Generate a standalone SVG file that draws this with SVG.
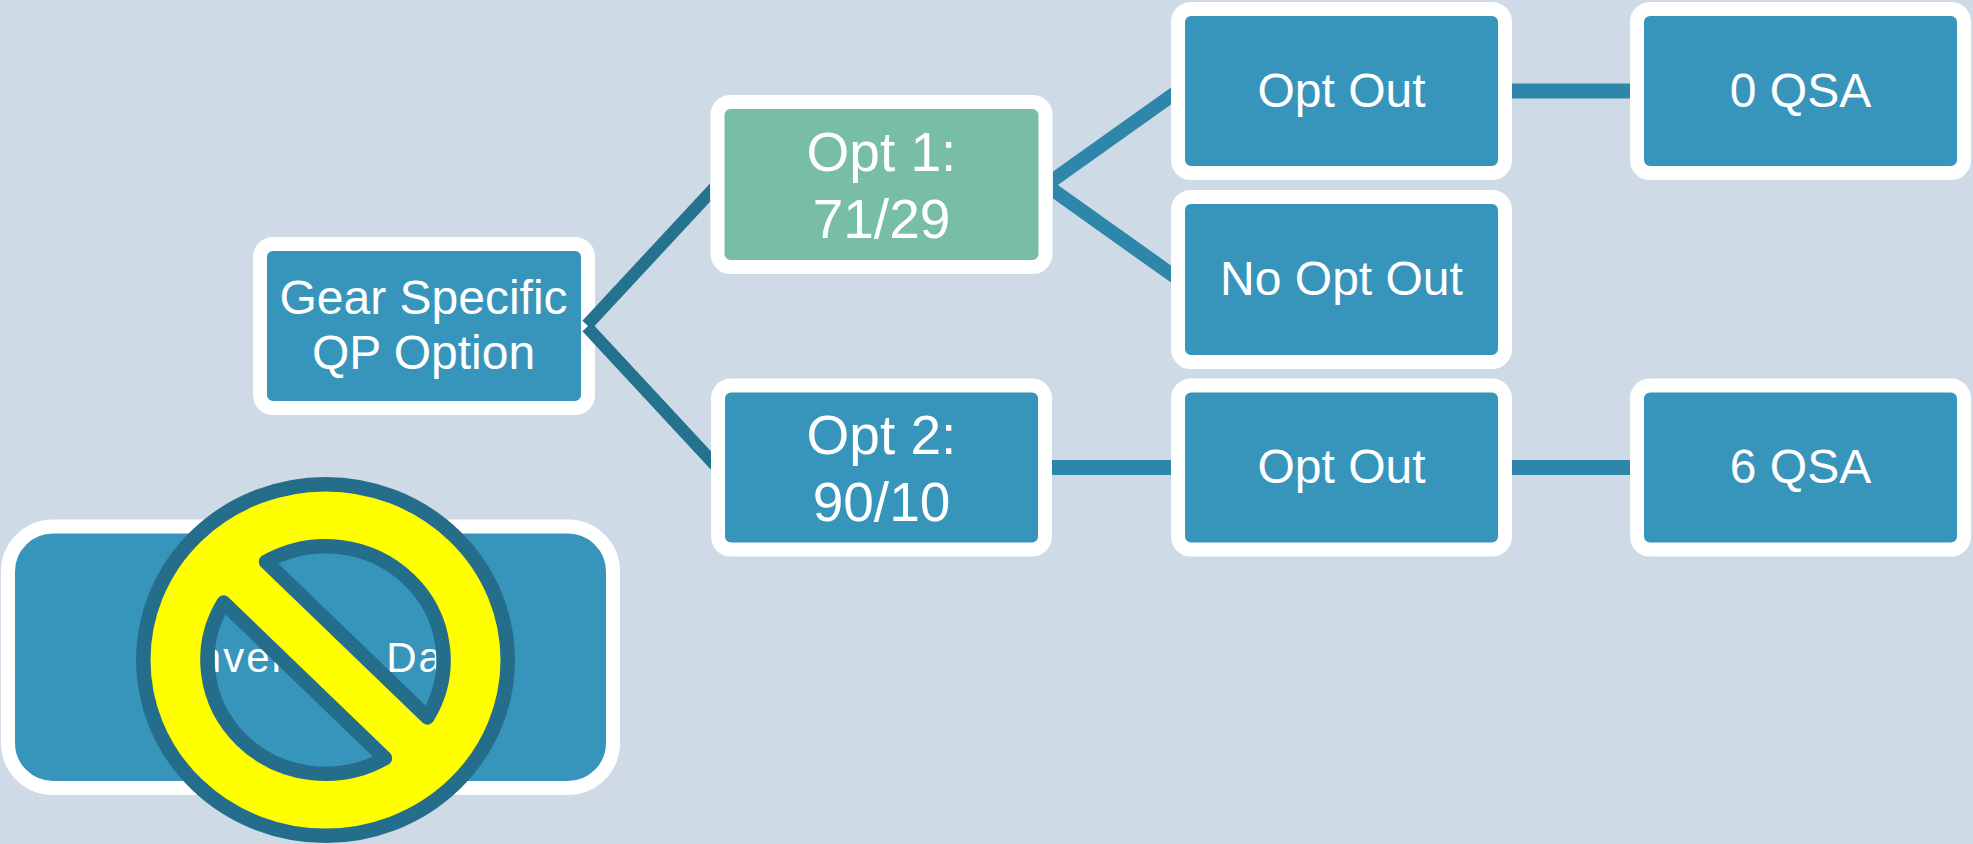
<svg xmlns="http://www.w3.org/2000/svg" width="1973" height="844" viewBox="0 0 1973 844">
<defs>
<style>
.box{fill:#3795BC;stroke:#FFFFFF;stroke-width:14}
.green{fill:#78BEA7}
.t{font-family:"Liberation Sans",Arial,sans-serif;fill:#FFFFFF;text-anchor:middle;font-size:48px}
.t2{font-size:55px}
.t3{font-size:42px;letter-spacing:2px}
.c1{fill:#25728F}
.c2{fill:#2E87AA}
.h{stroke:#2E87AA;stroke-width:15;stroke-linecap:butt}
.sign{fill:#FFFF00;fill-rule:evenodd;stroke:#246E8C;stroke-width:14.5;stroke-linejoin:round}
</style>
</defs>
<rect x="0" y="0" width="1973" height="844" fill="#CEDBE6"/>
<g id="node-gear">
<rect class="box" x="260" y="244" width="328" height="164" rx="13"/>
<text class="t" x="423.5" y="314">Gear Specific</text>
<text class="t" x="423.5" y="369">QP Option</text>
</g>
<g id="connectors">
<polygon class="c1" points="582.4,320.8 710,183.4 710,201.8 591.6,329.3"/>
<polygon class="c1" points="582.4,331.3 711,469.7 711,451.3 591.6,322.8"/>
<polygon class="c2" points="1053,171.4 1171,87.4 1171,104.6 1053,188.6"/>
<polygon class="c2" points="1053,181.4 1171,265.4 1171,282.6 1053,198.6"/>
<line class="h" x1="1046" y1="467.5" x2="1171" y2="467.5"/>
<line class="h" x1="1505" y1="91" x2="1630" y2="91"/>
<line class="h" x1="1505" y1="467.5" x2="1630" y2="467.5"/>
</g>
<g id="node-opt1">
<rect class="box green" x="717.5" y="102" width="328" height="165" rx="13"/>
<text class="t t2" x="881.5" y="170.5">Opt 1:</text>
<text class="t t2" x="881.5" y="237.5">71/29</text>
</g>
<g id="node-opt2">
<rect class="box" x="718" y="385.5" width="327" height="164" rx="13"/>
<text class="t t2" x="881.5" y="453.5">Opt 2:</text>
<text class="t t2" x="881.5" y="520.5">90/10</text>
</g>
<g id="node-optout1">
<rect class="box" x="1178" y="9" width="327" height="164" rx="13"/>
<text class="t" x="1341.5" y="106.5">Opt Out</text>
</g>
<g id="node-nooptout">
<rect class="box" x="1178" y="197" width="327" height="165" rx="13"/>
<text class="t" x="1341.5" y="294.5">No Opt Out</text>
</g>
<g id="node-optout2">
<rect class="box" x="1178" y="385.5" width="327" height="164" rx="13"/>
<text class="t" x="1341.5" y="482.5">Opt Out</text>
</g>
<g id="node-0qsa">
<rect class="box" x="1637" y="9" width="327" height="164" rx="13"/>
<text class="t" x="1800.5" y="106.5">0 QSA</text>
</g>
<g id="node-6qsa">
<rect class="box" x="1637" y="385.5" width="327" height="164" rx="13"/>
<text class="t" x="1800.5" y="482.5">6 QSA</text>
</g>
<g id="node-conversion">
<rect class="box" x="8" y="526.5" width="605" height="261.5" rx="45"/>
<text class="t t3" x="311.5" y="672">Conversion Data</text>
</g>
<g id="no-symbol">
<path class="sign" vector-effect="non-scaling-stroke" transform="translate(325.5,660) scale(1,0.9643)" d="M -182.25 0 A 182.25 182.25 0 1 0 182.25 0 A 182.25 182.25 0 1 0 -182.25 0 Z M -59.49 -101.91 A 118 118 0 0 1 101.91 59.49 Z M 59.49 101.91 A 118 118 0 0 1 -101.91 -59.49 Z"/>
</g>
</svg>
